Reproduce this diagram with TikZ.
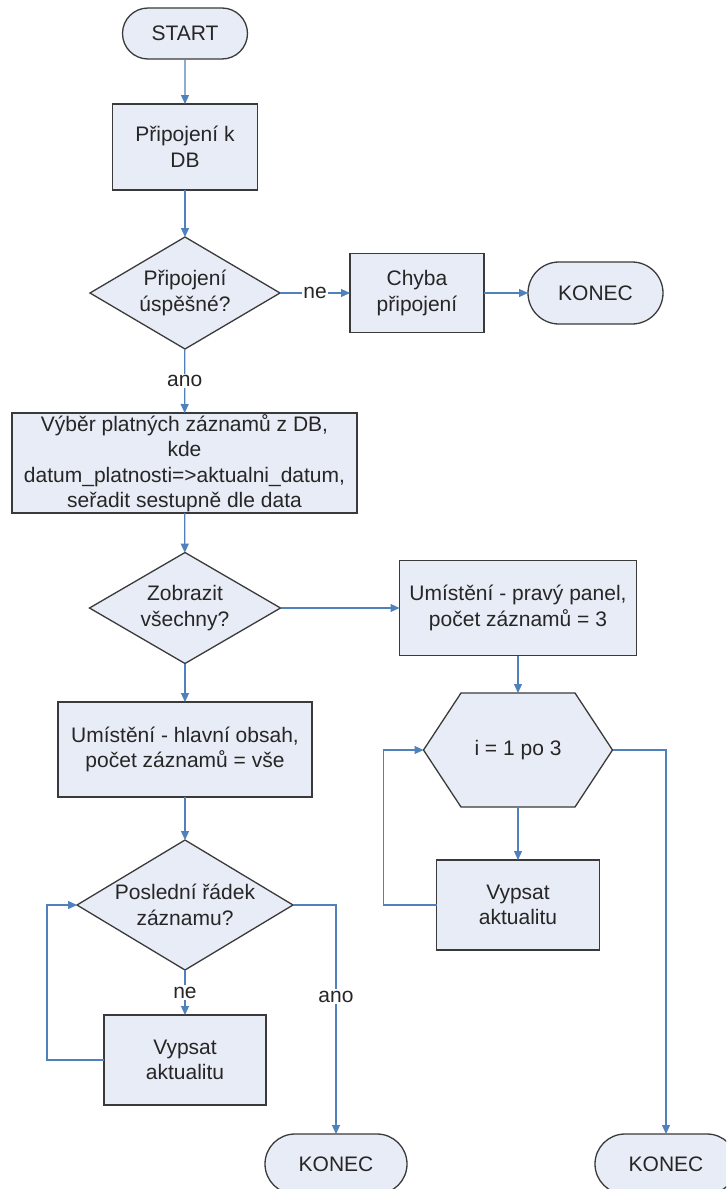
\documentclass[tikz,border=0pt]{standalone}
\usepackage{fontspec}
\setmainfont{Liberation Sans}
\usetikzlibrary{shapes.geometric,shapes.misc,arrows.meta,calc}
\definecolor{boxfill}{RGB}{232,236,246}
\definecolor{boxline}{RGB}{58,58,58}
\definecolor{flow}{RGB}{79,129,189}
\definecolor{txt}{RGB}{38,38,38}
\begin{document}
\begin{tikzpicture}[x=1pt,y=-1pt,
  every node/.style={font=\fontsize{21}{25.5}\selectfont, text=txt, align=center,
                     inner sep=0pt, outer sep=0pt},
  shapebase/.style={draw=boxline, fill=boxfill, line width=1.3pt},
  proc/.style={shapebase, rectangle},
  term/.style={shapebase, rounded rectangle},
  decision/.style={shapebase, diamond},
  flowline/.style={draw=flow, line width=1.2pt, -{Triangle[length=9pt,width=8pt]}},
  edgelabel/.style={fill=white, inner sep=1.5pt, text=txt}]

\useasboundingbox (0,0) rectangle (726,1189);
\fill[white] (0,0) rectangle (726,1189);
\clip (0,0) rectangle (726,1189);

% main column
\node[term, minimum width=125pt, minimum height=51pt] (start) at (185,33.5) {START};
\node[proc, minimum width=145pt, minimum height=86pt] (b1) at (185,147) {Připojení k\\DB};
\node[decision, minimum width=190pt, minimum height=112pt] (d1) at (185,293) {};
\node (d1t) at (d1) {Připojení\\úspěšné?};
\node[proc, minimum width=134pt, minimum height=79pt] (err) at (417,293) {Chyba\\připojení};
\node[term, minimum width=135pt, minimum height=62pt] (end1) at (595.5,293) {KONEC};
\node[proc, minimum width=345pt, minimum height=100pt] (sel) at (184.5,463)
  {Výběr platných záznamů z DB,\\kde\\datum\_platnosti=>aktualni\_datum,\\seřadit sestupně dle data};
\node[decision, minimum width=191pt, minimum height=111pt] (d2) at (185,608) {};
\node (d2t) at (d2) {Zobrazit\\všechny?};
\node[proc, minimum width=254pt, minimum height=95pt] (mp) at (185,749.5)
  {Umístění - hlavní obsah,\\počet záznamů = vše};
\node[decision, minimum width=216pt, minimum height=130pt] (d3) at (185,905) {};
\node (d3t) at (d3) {Poslední řádek\\záznamu?};
\node[proc, minimum width=162pt, minimum height=90pt] (wl) at (185,1060) {Vypsat\\aktualitu};
\node[term, minimum width=142pt, minimum height=60pt] (end2) at (336,1164) {KONEC};

% right column
\node[proc, minimum width=237pt, minimum height=95pt] (rp) at (518,608)
  {Umístění - pravý panel,\\počet záznamů = 3};
\filldraw[shapebase] (461,693) -- (575,693) -- (612.5,750) -- (575,807) -- (461,807) -- (423.5,750) -- cycle;
\node[minimum width=189pt, minimum height=114pt] (hx) at (518,750) {i = 1 po 3};
\node[proc, minimum width=163pt, minimum height=90pt] (wr) at (518,905) {Vypsat\\aktualitu};
\node[term, minimum width=142pt, minimum height=60pt] (end3) at (666,1164) {KONEC};

% connectors
\draw[flowline] (start) -- (b1);
\draw[flowline] (b1) -- (d1);
\draw[flowline] (d1) -- node[edgelabel] (lne1) {ne} (err);
\draw[flowline] (err) -- (end1);
\draw[flowline] (d1) -- node[edgelabel] (lano1) {ano} (sel);
\draw[flowline] (sel) -- (d2);
\draw[flowline] (d2) -- (rp);
\draw[flowline] (d2) -- (mp);
\draw[flowline] (rp) -- (hx);
\draw[flowline] (hx) -- (wr);
\draw[flowline] (wr.west) -- ++(-53,0) |- (hx.west);
\draw[flowline] (hx.east) -| (end3.north);
\draw[flowline] (mp) -- (d3);
\draw[flowline] (d3) -- node[edgelabel] (lne2) {ne} (wl);
\draw[flowline] (wl.west) -- ++(-57,0) |- (d3.west);
\draw[flowline] (d3.east) -| node[pos=0.7, edgelabel] (lano2) {ano} (end2.north);
\end{tikzpicture}
\end{document}
